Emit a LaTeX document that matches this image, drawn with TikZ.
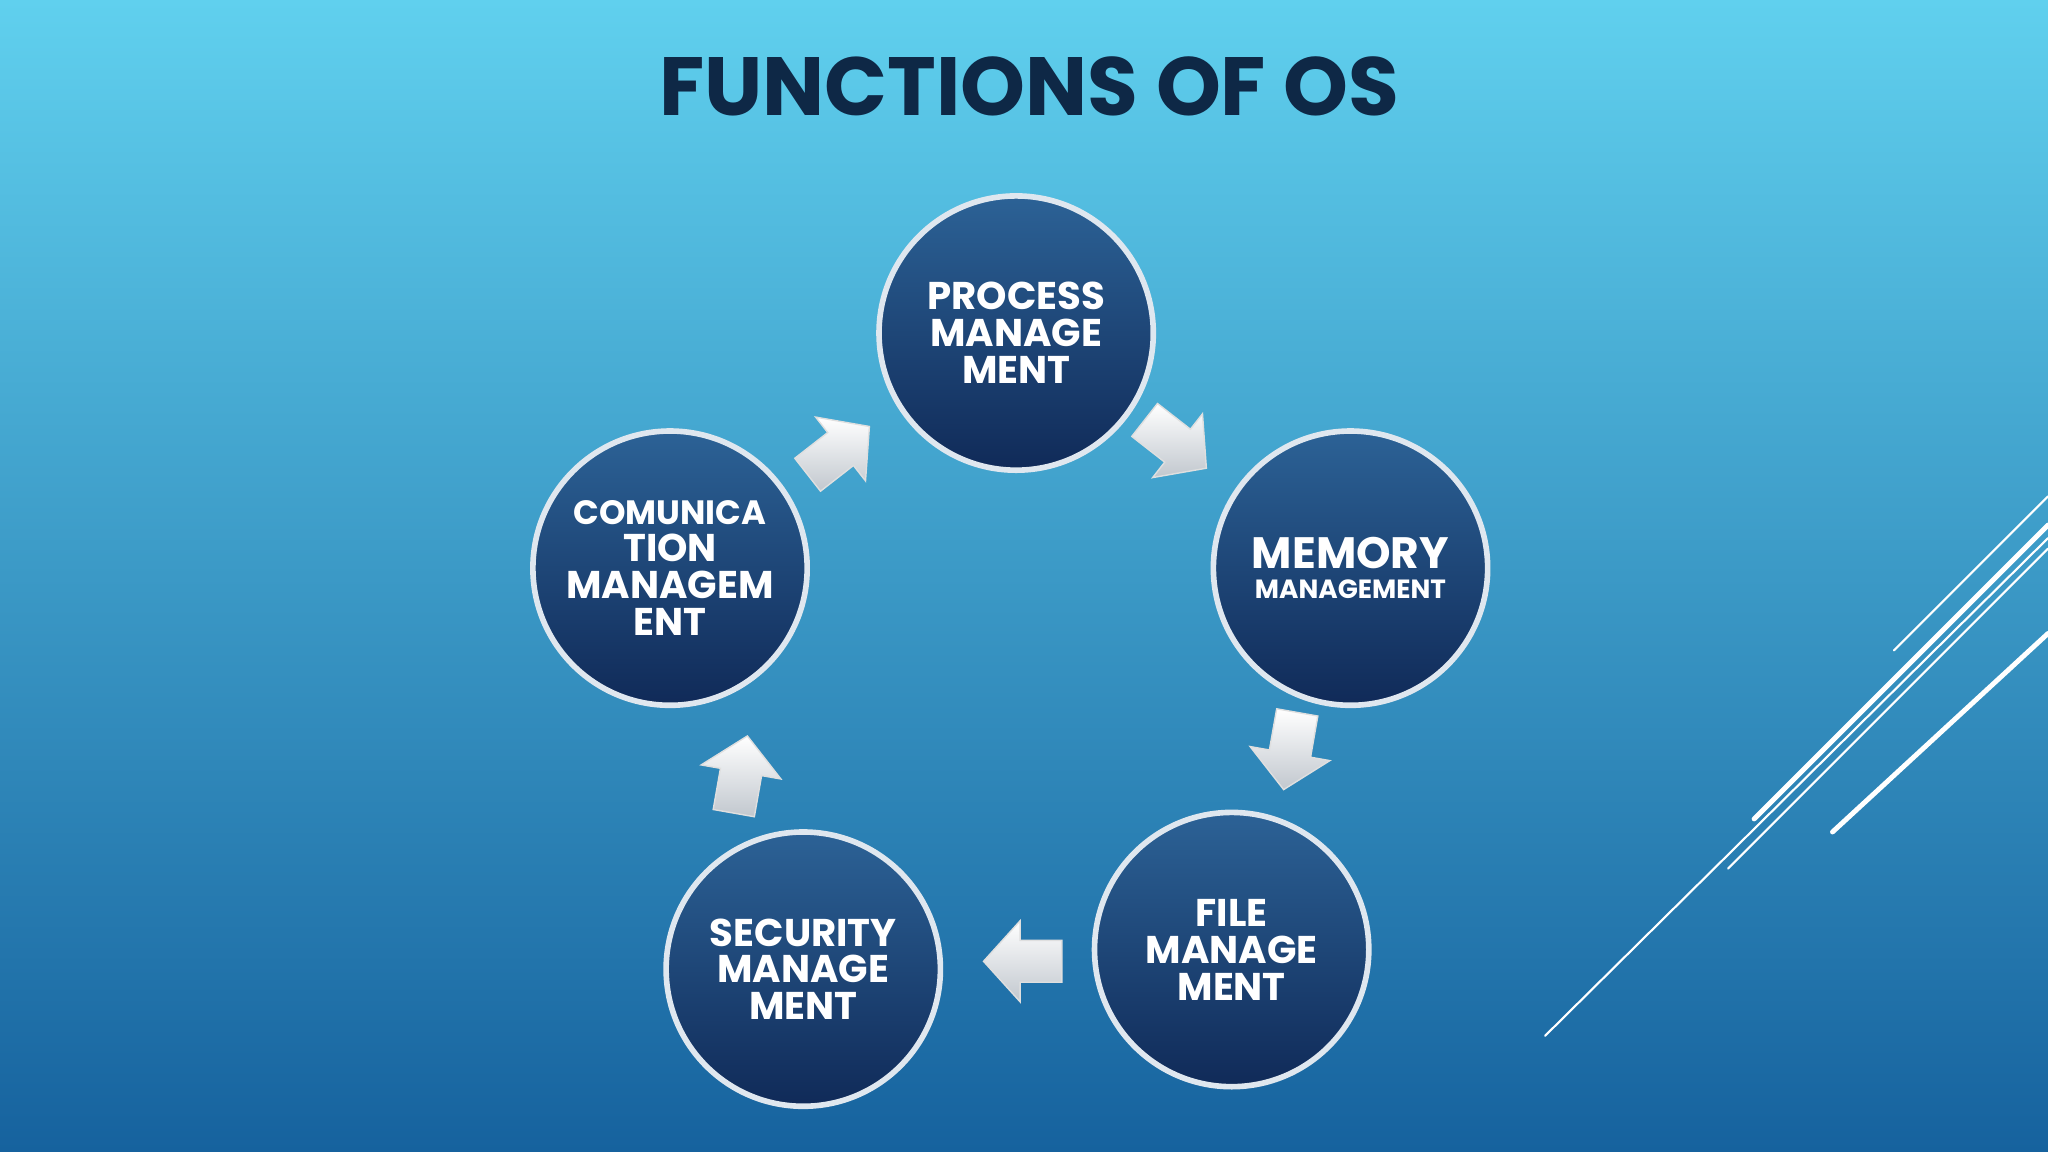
\documentclass[tikz,border=0pt]{standalone}
\usepackage{fontspec}
\setmainfont{Poppins}
\usetikzlibrary{shadings}
\definecolor{bgtop}{RGB}{96,208,238}
\definecolor{bgbot}{RGB}{22,98,158}
\definecolor{ctop}{RGB}{44,98,150}
\definecolor{cbot}{RGB}{16,42,88}
\definecolor{titlec}{RGB}{14,40,70}
\definecolor{arr}{RGB}{205,212,220}
\tikzset{
  fn/.style={circle,minimum size=210*0.013061cm,top color=ctop,bottom color=cbot,
    draw=white!85!ctop,line width=1.6pt,text=white,font=\bfseries\fontsize{11}{10.5}\selectfont,
    align=center,inner sep=0pt},
  blk/.style={draw=white!75!gray,line width=0.4pt,top color=white,bottom color=arr!85!gray},
  deco/.style={white,line cap=round}
}
\newcommand\fatarrow[3]{%
  \begin{scope}[shift={(#1,#2)},rotate=#3]
    \path[blk] (-30,-16) -- (2,-16) -- (2,-31) -- (30,0) -- (2,31) -- (2,16) -- (-30,16) -- cycle;
  \end{scope}}
\begin{document}
\begin{tikzpicture}[x=0.013061cm,y=-0.013061cm]
\useasboundingbox (0,0) rectangle (1568,882);
\shade[top color=bgtop,bottom color=bgbot] (0,0) rectangle (1568,882);
\node[text=titlec,font=\bfseries\fontsize{23.5}{24}\selectfont] (title) at (788,66) {FUNCTIONS OF OS};
\node[fn] (p) at (778,255) {PROCESS\\MANAGE\\MENT};
\node[fn] (m) at (1034,435) {\fontsize{12.5}{12}\selectfont MEMORY\\[-2pt]{\fontsize{7.5}{8}\selectfont MANAGEMENT}};
\node[fn] (f) at (943,727) {FILE\\MANAGE\\MENT};
\node[fn] (s) at (615,742) {SECURITY\\MANAGE\\MENT};
\node[fn] (c) at (513,435) {\fontsize{9.6}{8.8}\selectfont COMUNICA\\TION\\MANAGEM\\ENT};
\fatarrow{900}{340}{-38}
\fatarrow{988}{575}{-100}
\fatarrow{783}{736}{180}
\fatarrow{567}{593}{80}
\fatarrow{642}{345}{38}
\draw[deco,line width=0.6pt] (1450,498) -- (1568,380);
\draw[deco,line width=1.4pt] (1343,627) -- (1568,402);
\draw[deco,line width=0.6pt] (1323,665) -- (1568,420);
\draw[deco,line width=1.4pt] (1403,637) -- (1568,485);
\draw[deco,line width=0.6pt] (1183,793) -- (1568,412);
\end{tikzpicture}
\end{document}
